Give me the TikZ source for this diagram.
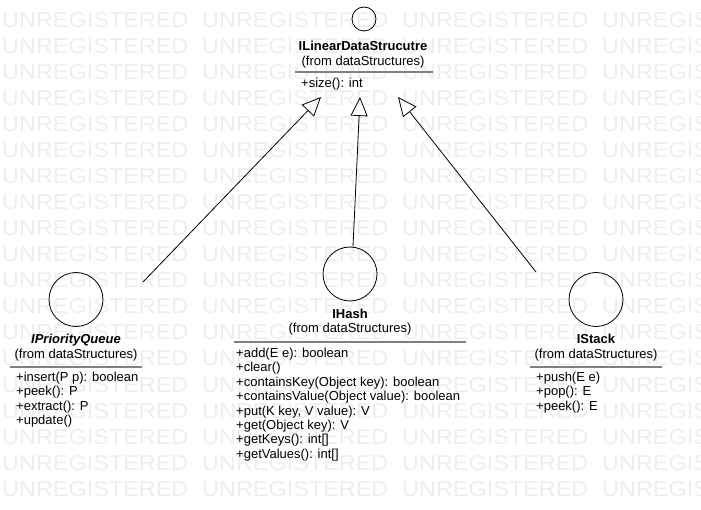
\documentclass[tikz,border=0pt]{standalone}
\usepackage{fontspec}
\setmainfont{Liberation Sans}
\usetikzlibrary{arrows.meta,positioning}
\definecolor{wmgray}{RGB}{238,238,238}
\definecolor{rulegray}{RGB}{128,128,128}

\begin{document}
\begin{tikzpicture}[x=1pt, y=-1pt,
  iface/.style={circle, draw, line width=0.8pt, inner sep=0pt},
  ifname/.style={font=\bfseries, anchor=base, inner sep=0pt},
  frompkg/.style={anchor=base, inner sep=0pt},
  ops/.style={anchor=base west, align=left, inner sep=0pt},
  sep/.style={rulegray, line width=1.6pt},
  realize/.style={-{Triangle[open, length=19pt, width=17pt]}, line width=0.8pt},
  wmark/.style={wmgray, font=\fontsize{21.5}{22}\selectfont, anchor=base west, inner sep=0pt}]
  \fontsize{13}{14.4}\selectfont
  \useasboundingbox (0,0) rectangle (701,510);

  % watermark
  \begin{scope}
    \clip (0,0) rectangle (701,510);
    \foreach \r in {0,...,18}
      \foreach \c in {0,...,3}
        \node[wmark] (wm-\r-\c) at (2+200*\c, 28+26*\r) {\scalebox{1.09}[1]{UNREGISTERED}};
  \end{scope}

  % ILinearDataStrucutre
  \node[iface, minimum size=24pt] (lin) at (364,19) {};
  \node[ifname] (lin-name) at (363,50.5) {ILinearDataStrucutre};
  \node[frompkg] (lin-from) at (363,65.5) {(from dataStructures)};
  \draw[sep] (295,72) -- (433,72);
  \node[ops] (lin-ops) at (301,87.5) {+size(): int};
  \coordinate (lin-base) at (364,97);

  % IPriorityQueue (ops anchored at the last line)
  \node[iface, minimum size=54pt] (pq) at (76,299.5) {};
  \node[ifname, font=\bfseries\itshape] (pq-name) at (76,343.5) {IPriorityQueue};
  \node[frompkg] (pq-from) at (76,358.5) {(from dataStructures)};
  \draw[sep] (10,367) -- (142,367);
  \node[ops] (pq-ops) at (16,424.7) {+insert(P p): boolean\\+peek(): P\\+extract(): P\\+update()};
  \coordinate (pq-tail) at (143,282);

  % IHash
  \node[iface, minimum size=54pt] (hash) at (350,274) {};
  \node[ifname] (hash-name) at (350,318.5) {IHash};
  \node[frompkg] (hash-from) at (350,332.5) {(from dataStructures)};
  \draw[sep] (234,342) -- (466,342);
  \node[ops] (hash-ops) at (236,458.3) {+add(E e): boolean\\+clear()\\+containsKey(Object key): boolean\\+containsValue(Object value): boolean\\+put(K key, V value): V\\+get(Object key): V\\+getKeys(): int[]\\+getValues(): int[]};

  % IStack
  \node[iface, minimum size=54pt] (stack) at (596,299.5) {};
  \node[ifname] (stack-name) at (596,343.5) {IStack};
  \node[frompkg] (stack-from) at (596,358.5) {(from dataStructures)};
  \draw[sep] (530,367) -- (662,367);
  \node[ops] (stack-ops) at (536,410.3) {+push(E e)\\+pop(): E\\+peek(): E};
  \coordinate (stack-tail) at (536,272);

  % realizations
  \draw[realize] (pq-tail) -- ([xshift=-43pt]lin-base);
  \draw[realize] ([xshift=3pt]hash.north) -- ([xshift=-4pt]lin-base);
  \draw[realize] (stack-tail) -- ([xshift=34pt]lin-base);
\end{tikzpicture}
\end{document}
